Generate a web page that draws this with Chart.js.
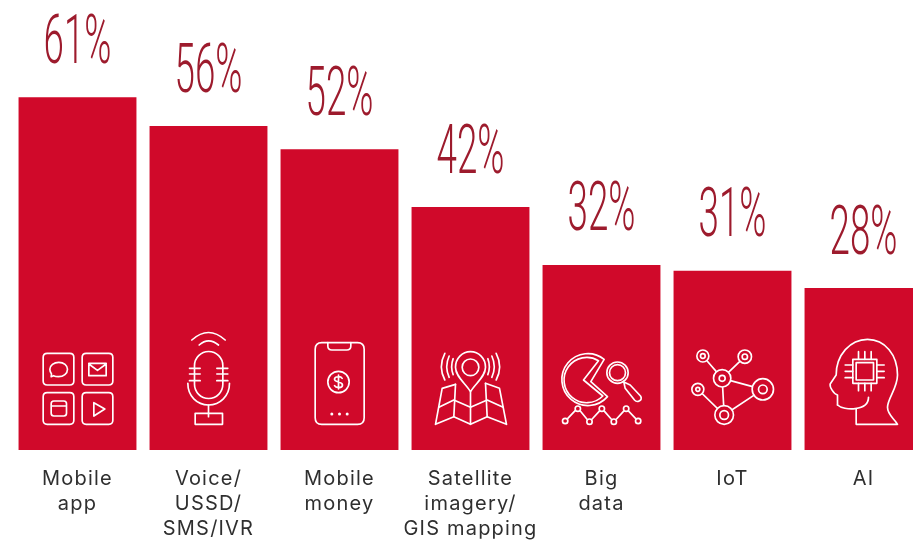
<!DOCTYPE html>
<html>
<head>
<meta charset="utf-8">
<title>Technologies in use</title>
<script src="https://cdn.jsdelivr.net/npm/chart.js@4"></script>
<style>
  html, body { margin: 0; padding: 0; background: #fff; overflow: hidden; width: 913px; height: 540px; }
  #wrap { width: 913px; height: 540px; overflow: hidden; }
  canvas { display: block; }
</style>
</head>
<body>
<div id="wrap"><canvas id="techChart" width="941" height="549"></canvas></div>
<script>
const categories = [
  ['Mobile', 'app'],
  ['Voice/', 'USSD/', 'SMS/IVR'],
  ['Mobile', 'money'],
  ['Satellite', 'imagery/', 'GIS mapping'],
  ['Big', 'data'],
  ['IoT'],
  ['AI'],
];
const shares = [61, 56, 52, 42, 32, 31, 28];
const iconNames = ['apps', 'mic', 'phone', 'map', 'bigdata', 'iot', 'head'];

const BAR_RED = '#d0092a';
const LABEL_RED = '#9d1b2d';
const TEXT_DARK = '#2f2f2f';

// Icons are authored on a 3x grid; y = 390 is the foot of the bar, cx is the bar's middle.
const icons = {
  apps: {
    cx: 231,
    paths: [
      'M140 100H208Q220 100 220 112V183Q220 195 208 195H140Q128 195 128 183V112Q128 100 140 100Z',
      'M257 100H325Q337 100 337 112V183Q337 195 325 195H257Q245 195 245 183V112Q245 100 257 100Z',
      'M140 218H208Q220 218 220 230V301Q220 313 208 313H140Q128 313 128 301V230Q128 218 140 218Z',
      'M257 218H325Q337 218 337 230V301Q337 313 325 313H257Q245 313 245 301V230Q245 218 257 218Z',
      'M175 127C190 127 201 136 201 148C201 161 189 170 174 170C168 170 163 169 159 167L152 170L153 162C150 158 148 153 148 148C148 136 160 127 175 127Z',
      'M265 130H317V167H265ZM265 132L291 151L317 132',
      'M160 243H190Q198 243 198 251V280Q198 288 190 288H160Q152 288 152 280V251Q152 243 160 243ZM152 258H198',
      'M280 248L313 267L280 288Z',
    ],
  },
  mic: {
    cx: 625,
    paths: [
      'M583 137A42 42 0 0 1 668 137V193A42 42 0 0 1 583 193Z',
      'M568 145H600M568 162H600M568 182H600M650 145H683M650 162H683M650 182H683',
      'M563 190C563 228 590 255 625 255C660 255 688 228 688 190',
      'M625 255V290M585 280H667V313H585Z',
      'M575 60Q625 15 675 60M597 75Q625 50 655 75',
    ],
  },
  phone: {
    cx: 1018,
    paths: [
      'M965 68H1072Q1092 68 1092 88V293Q1092 313 1072 313H965Q945 313 945 293V88Q945 68 965 68Z',
      'M983 68V78Q983 90 995 90H1040Q1052 90 1052 78V68',
      'M1047 186A32 32 0 1 1 983 186A32 32 0 1 1 1047 186Z',
      'M1026 175C1022 168 1003 168 1003 178C1003 188 1027 184 1027 195C1027 205 1007 205 1003 197M1015 165V207',
    ],
    dots: [[995, 282, 4.5], [1018, 282, 4.5], [1041, 282, 4.5]],
  },
  map: {
    cx: 210,
    paths: [
      'M235 142A25 25 0 1 1 185 142A25 25 0 1 1 235 142Z',
      'M210 215C195 190 165 170 165 142C165 115 185 95 210 95C235 95 255 115 255 142C255 170 225 190 210 215Z',
      'M165 193L125 205L105 313L160 290L210 313L260 290L318 313L297 205L255 190',
      'M160 290L165 193M210 215V313M260 290L255 190',
      'M115 262L160 240L210 262L260 240L308 262',
      'M133 100C120 125 120 155 133 180M146 108C136 130 136 150 146 172M158 116C152 132 152 148 158 164',
      'M287 100C300 125 300 155 287 180M274 108C284 130 284 150 274 172M262 116C268 132 268 148 262 164',
    ],
  },
  bigdata: {
    cx: 604,
    paths: [
      'M612 118A78 78 0 1 0 622 230L572 185Z',
      'M595 122A68 68 0 1 0 608 228L550 180Z',
      'M684 158A32 32 0 1 1 620 158A32 32 0 1 1 684 158Z',
      'M676 158A24 24 0 1 1 628 158A24 24 0 1 1 676 158Z',
      'M671 186L690 195L721 228Q727 238 717 243Q709 247 703 240L675 205Z',
      'M503 295L525 272M541 274L560 297M576 297L597 274M613 274L633 297M649 297L670 274M686 274L706 295',
    ],
    rings: [[495, 303, 8], [533, 266, 8], [568, 305, 8], [605, 266, 8], [641, 305, 8], [678, 266, 8], [714, 303, 8]],
  },
  iot: {
    cx: 997,
    paths: [
      'M908 108L966 175M1034 110L966 175M966 175L1088 208M966 175L972 285M893 208L972 285M1088 208L972 285',
    ],
    rings: [
      [908, 108, 18], [908, 108, 7], [1034, 110, 20], [1034, 110, 8], [966, 175, 26], [966, 175, 9],
      [893, 208, 18], [893, 208, 6], [1088, 208, 32], [1088, 208, 13], [972, 285, 28], [972, 285, 13],
    ],
  },
  head: {
    cx: 1390,
    paths: [
      'M1312 255V225C1300 222 1288 200 1290 192L1308 165C1308 105 1350 58 1402 58C1455 58 1492 105 1492 165C1492 205 1462 235 1462 262C1462 285 1482 295 1492 313H1368V268',
      'M1312 255C1330 272 1405 275 1405 232',
      'M1358 118H1430V190H1358ZM1368 128H1420V180H1368Z',
      'M1375 95V118M1394 95V118M1413 95V118M1375 190V212M1394 190V212M1413 190V212',
      'M1335 135H1358M1335 154H1358M1335 173H1358M1430 135H1452M1430 154H1452M1430 173H1452',
    ],
  },
};

function drawIcon(ctx, icon, barX, baseY) {
  ctx.save();
  ctx.translate(barX, baseY);
  ctx.scale(1 / 3, 1 / 3);
  ctx.translate(-icon.cx, -390);
  ctx.strokeStyle = '#fff';
  ctx.fillStyle = '#fff';
  ctx.lineWidth = 5;
  ctx.lineJoin = 'round';
  ctx.lineCap = 'round';
  icon.paths.forEach((d) => ctx.stroke(new Path2D(d)));
  (icon.rings || []).forEach(([x, y, r]) => {
    ctx.beginPath();
    ctx.arc(x, y, r, 0, Math.PI * 2);
    ctx.fillStyle = BAR_RED;
    ctx.fill();
    ctx.stroke();
  });
  (icon.dots || []).forEach(([x, y, r]) => {
    ctx.beginPath();
    ctx.arc(x, y, r, 0, Math.PI * 2);
    ctx.fillStyle = '#fff';
    ctx.fill();
  });
  ctx.restore();
}

// Tall condensed percentages over the bars, then the white pictograms inside them
const barDecor = {
  id: 'barDecor',
  beforeDraw(chart) {
    chart.ctx.letterSpacing = '1.2px';
  },
  afterDatasetsDraw(chart) {
    const ctx = chart.ctx;
    const bars = chart.getDatasetMeta(0).data;
    const baseY = chart.scales.y.getPixelForValue(0);
    bars.forEach((bar, i) => {
      ctx.save();
      ctx.letterSpacing = '0px';
      ctx.translate(bar.x, bar.y - 34.5);
      ctx.scale(0.54, 1);
      ctx.font = '300 68px Roboto';
      ctx.fillStyle = LABEL_RED;
      ctx.textAlign = 'center';
      ctx.textBaseline = 'alphabetic';
      ctx.fillText(`${shares[i]}%`, 0, 0);
      ctx.restore();
      drawIcon(ctx, icons[iconNames[i]], bar.x, baseY);
    });
  },
};

new Chart(document.getElementById('techChart'), {
  type: 'bar',
  data: {
    labels: categories,
    datasets: [{
      data: shares,
      backgroundColor: BAR_RED,
      borderWidth: 0,
      categoryPercentage: 1,
      barPercentage: 0.9,
    }],
  },
  options: {
    responsive: false,
    animation: false,
    layout: { padding: { left: 12, right: 12, top: 0, bottom: 0 } },
    plugins: { legend: { display: false }, tooltip: { enabled: false } },
    scales: {
      x: {
        grid: { display: false },
        border: { display: false },
        ticks: {
          color: TEXT_DARK,
          font: { family: 'Inter', size: 20, lineHeight: 1.25 },
          padding: 8,
          maxRotation: 0,
          autoSkip: false,
        },
      },
      y: { display: false, min: 0, max: 77.8 },
    },
  },
  plugins: [barDecor],
});
</script>
</body>
</html>
